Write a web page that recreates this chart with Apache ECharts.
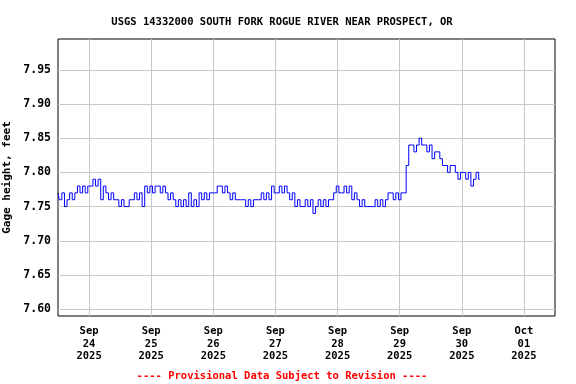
<!DOCTYPE html>
<html>
<head>
<meta charset="utf-8">
<script src="https://cdn.jsdelivr.net/npm/echarts@6/dist/echarts.min.js"></script>
<style>
html,body{margin:0;padding:0;background:#fff;}
#chart{width:576px;height:384px;}
</style>
</head>
<body>
<div id="chart"></div>
<script>
// Hourly gage height readings (feet), starting 2025-09-23 12:00
const startTime = Date.UTC(2025, 8, 23, 12, 0, 0);
const stepMs = 3600000;
const gageHeight = [
  7.77,7.76,7.77,7.75,7.76,7.77,7.76,7.77,7.78,7.77,
  7.78,7.77,7.78,7.78,7.79,7.78,7.79,7.76,7.78,7.77,
  7.76,7.77,7.76,7.76,7.75,7.76,7.75,7.75,7.76,7.76,
  7.77,7.76,7.77,7.75,7.78,7.77,7.78,7.77,7.78,7.78,
  7.77,7.78,7.77,7.76,7.77,7.76,7.75,7.76,7.75,7.76,
  7.75,7.77,7.75,7.76,7.75,7.77,7.76,7.77,7.76,7.77,
  7.77,7.77,7.78,7.78,7.77,7.78,7.77,7.76,7.77,7.76,
  7.76,7.76,7.76,7.75,7.76,7.75,7.76,7.76,7.76,7.77,
  7.76,7.77,7.76,7.78,7.77,7.77,7.78,7.77,7.78,7.77,
  7.76,7.77,7.75,7.76,7.75,7.75,7.76,7.75,7.76,7.74,
  7.75,7.76,7.75,7.76,7.75,7.76,7.76,7.77,7.78,7.77,
  7.77,7.78,7.77,7.78,7.76,7.77,7.76,7.75,7.76,7.75,
  7.75,7.75,7.75,7.76,7.75,7.76,7.75,7.76,7.77,7.77,
  7.76,7.77,7.76,7.77,7.77,7.81,7.84,7.84,7.83,7.84,
  7.85,7.84,7.84,7.83,7.84,7.82,7.83,7.83,7.82,7.81,
  7.81,7.80,7.81,7.81,7.80,7.79,7.80,7.80,7.79,7.80,
  7.78,7.79,7.80,7.79
];
const yTickValues = [7.60, 7.65, 7.70, 7.75, 7.80, 7.85, 7.90, 7.95];
const xTickDates = ['2025-09-24','2025-09-25','2025-09-26','2025-09-27','2025-09-28','2025-09-29','2025-09-30','2025-10-01'];
const monthNames = ['Jan','Feb','Mar','Apr','May','Jun','Jul','Aug','Sep','Oct','Nov','Dec'];

const seriesData = gageHeight.map((v, i) => [startTime + i * stepMs, v]);
const xTicks = xTickDates.map(d => Date.parse(d + 'T00:00:00Z'));

const font = 'DejaVu Sans Mono';
const chart = echarts.init(document.getElementById('chart'), null, {renderer: 'canvas'});
chart.setOption({
  animation: false,
  backgroundColor: '#fff',
  title: [{
    text: 'USGS 14332000 SOUTH FORK ROGUE RIVER NEAR PROSPECT, OR',
    left: 277, top: 12, textAlign: 'center',
    textStyle: {fontFamily: font, fontWeight: 'bold', fontSize: 10.5, color: '#000'}
  }, {
    text: '---- Provisional Data Subject to Revision ----',
    left: 277, top: 366, textAlign: 'center',
    textStyle: {fontFamily: font, fontWeight: 'bold', fontSize: 10.5, color: '#f00'}
  }],
  grid: {left: 58, top: 39, right: 21, bottom: 68, outerBoundsMode: 'none', containLabel: false,
         show: true, borderColor: '#000', borderWidth: 1, backgroundColor: 'transparent'},
  xAxis: {
    type: 'value',
    min: Date.UTC(2025, 8, 23, 12),
    max: Date.UTC(2025, 9, 1, 12),
    axisLine: {show: false},
    axisTick: {show: false, customValues: xTicks},
    splitLine: {show: true, lineStyle: {color: '#c8c8c8', width: 1}},
    axisLabel: {
      customValues: xTicks,
      margin: 9,
      lineHeight: 12.7,
      fontFamily: font, fontWeight: 'bold', fontSize: 10.5, color: '#000',
      formatter: function (val) {
        const d = new Date(val);
        const day = String(d.getUTCDate()).padStart(2, '0');
        return monthNames[d.getUTCMonth()] + '\n' + day + '\n' + d.getUTCFullYear();
      }
    }
  },
  yAxis: {
    type: 'value',
    min: 7.59, max: 7.995,
    name: 'Gage height, feet',
    nameLocation: 'middle',
    nameGap: 42,
    nameTextStyle: {fontFamily: font, fontWeight: 'bold', fontSize: 11, color: '#000'},
    axisLine: {show: false},
    axisTick: {show: false, customValues: yTickValues},
    splitLine: {show: true, lineStyle: {color: '#c8c8c8', width: 1}},
    axisLabel: {
      customValues: yTickValues,
      margin: 7,
      fontFamily: font, fontWeight: 'bold', fontSize: 11.5, color: '#000',
      formatter: v => v.toFixed(2)
    }
  },
  series: [{
    type: 'line',
    data: seriesData,
    step: 'middle',
    showSymbol: false,
    lineStyle: {color: '#0000ff', width: 1},
    z: 3
  }]
});
</script>
</body>
</html>
